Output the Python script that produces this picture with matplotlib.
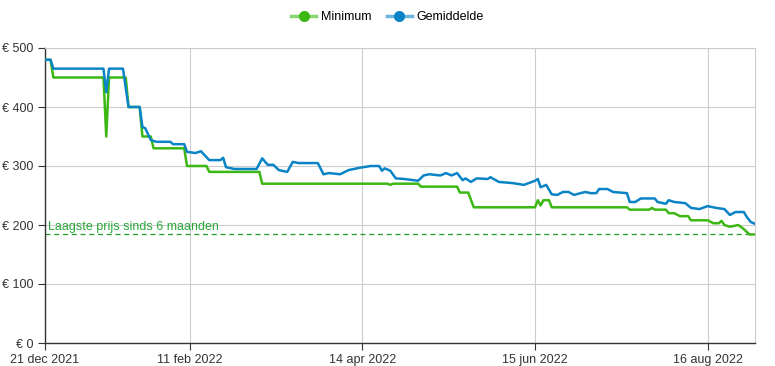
import numpy as np
import pandas as pd
import matplotlib
matplotlib.use('Agg')
import matplotlib.pyplot as plt
import matplotlib.dates as mdates

start = pd.Timestamp('2021-12-21')

# Minimum (dagen sinds 21 dec 2021, prijs in euro)
min_dagen = [0, 2, 3, 21, 22, 23, 29, 30, 34, 35, 38, 39, 50, 51, 58, 59, 77, 78,
             123, 124, 125, 134, 135, 148, 149, 152, 154, 176, 177, 178, 179, 181, 182,
             209, 210, 217, 218, 219, 223, 224, 226, 228, 231, 232, 238, 240, 242, 243,
             244, 246, 249, 251, 253, 255]
min_prijs = [480, 480, 450, 450, 350, 450, 450, 400, 400, 350, 350, 330, 330, 300, 300, 290, 290, 270,
             270, 268, 270, 270, 265, 265, 255, 255, 230, 230, 242, 233, 242, 242, 230,
             230, 226, 226, 229, 226, 226, 220, 220, 215, 215, 208, 208, 203, 203, 207,
             200, 197, 200, 193, 184, 184]

# Gemiddelde
gem_dagen = [0, 2, 3, 21, 22, 23, 28, 30, 34, 35, 36, 38, 40, 45, 46, 50, 51, 54, 56,
             59, 63, 64, 65, 68, 76, 78, 80, 82, 84, 87, 89, 91, 98, 100, 102, 106,
             109, 113, 117, 120, 121, 122, 124, 126, 129, 134, 136, 138, 142, 144, 146,
             148, 150, 151, 153, 155, 159, 160, 163, 168, 172, 176, 177, 178, 180, 182,
             184, 186, 188, 190, 194, 196, 198, 199, 202, 204, 209, 210, 212, 214, 219,
             220, 223, 224, 226, 230, 232, 235, 238, 241, 244, 246, 248, 251, 252, 253.5, 255]
gem_prijs = [480, 480, 465, 465, 425, 465, 465, 400, 400, 366, 364, 344, 341, 341, 337, 337, 324, 322, 325,
             310, 310, 314, 298, 295, 295, 313, 302, 302, 293, 290, 307, 305, 305, 286, 288, 286,
             293, 297, 300, 300, 292, 296, 292, 279, 278, 275, 284, 286, 284, 288, 284,
             288, 276, 279, 273, 279, 278, 281, 273, 271, 268, 275, 278, 264, 268, 252,
             251, 256, 256, 251, 256, 254, 254, 261, 261, 256, 254, 239, 239, 245, 245,
             239, 236, 242, 239, 237, 229, 227, 232, 229, 227, 217, 222, 222, 214, 205, 202]

laagste = 184
tick_datums = ['2021-12-21', '2022-02-11', '2022-04-14', '2022-06-15', '2022-08-16']
tick_labels = ['21 dec 2021', '11 feb 2022', '14 apr 2022', '15 jun 2022', '16 aug 2022']

groen = '#3cb814'
blauw = '#0a84c6'

plt.rcParams['font.family'] = ['Liberation Sans', 'DejaVu Sans']

min_x = [start + pd.Timedelta(days=d) for d in min_dagen]
gem_x = [start + pd.Timedelta(days=d) for d in gem_dagen]

fig = plt.figure(figsize=(7.75, 3.66), dpi=100)
ax = fig.add_axes([45/775, 23/366, 710/775, 295/366])

ax.plot(min_x, min_prijs, color=groen, lw=1.8, label='Minimum', zorder=3)
ax.plot(gem_x, gem_prijs, color=blauw, lw=1.8, label='Gemiddelde', zorder=3)

ax.axhline(laagste, color='#1f9a2e', lw=0.9, ls=(0, (4, 3)), zorder=2)
ax.text(start + pd.Timedelta(days=1), laagste + 3, 'Laagste prijs sinds 6 maanden',
        color='#2aa83a', fontsize=9, va='bottom', ha='left')

ax.set_ylim(0, 500)
ax.set_xlim(start, start + pd.Timedelta(days=255))
ax.set_yticks([0, 100, 200, 300, 400, 500])
ax.set_yticklabels(['€ 0', '€ 100', '€ 200', '€ 300', '€ 400', '€ 500'])
ax.set_xticks([pd.Timestamp(t) for t in tick_datums])
ax.set_xticklabels(tick_labels)
ax.tick_params(labelsize=9, colors='#333333', length=5, width=0.8)
ax.tick_params(axis='x', pad=3)

ax.grid(True, color='#cccccc', lw=0.8)
ax.set_axisbelow(True)
for s in ['top', 'right']:
    ax.spines[s].set_color('#cccccc')
    ax.spines[s].set_linewidth(0.8)
for s in ['left', 'bottom']:
    ax.spines[s].set_color('#333333')
    ax.spines[s].set_linewidth(1)

# legenda: lichte lijn met volle stip
h_min = (plt.Line2D([], [], color=groen, lw=2.5, alpha=0.6),
         plt.Line2D([], [], color=groen, lw=0, marker='o', ms=7))
h_gem = (plt.Line2D([], [], color=blauw, lw=2.5, alpha=0.6),
         plt.Line2D([], [], color=blauw, lw=0, marker='o', ms=7))
fig.legend(handles=[h_min, h_gem], labels=['Minimum', 'Gemiddelde'],
           loc='upper center', bbox_to_anchor=(0.5, 1.0),
           ncol=2, frameon=False, fontsize=9, handlelength=2,
           columnspacing=1.2, handletextpad=0.4)

fig.savefig('out.png', dpi=100)
